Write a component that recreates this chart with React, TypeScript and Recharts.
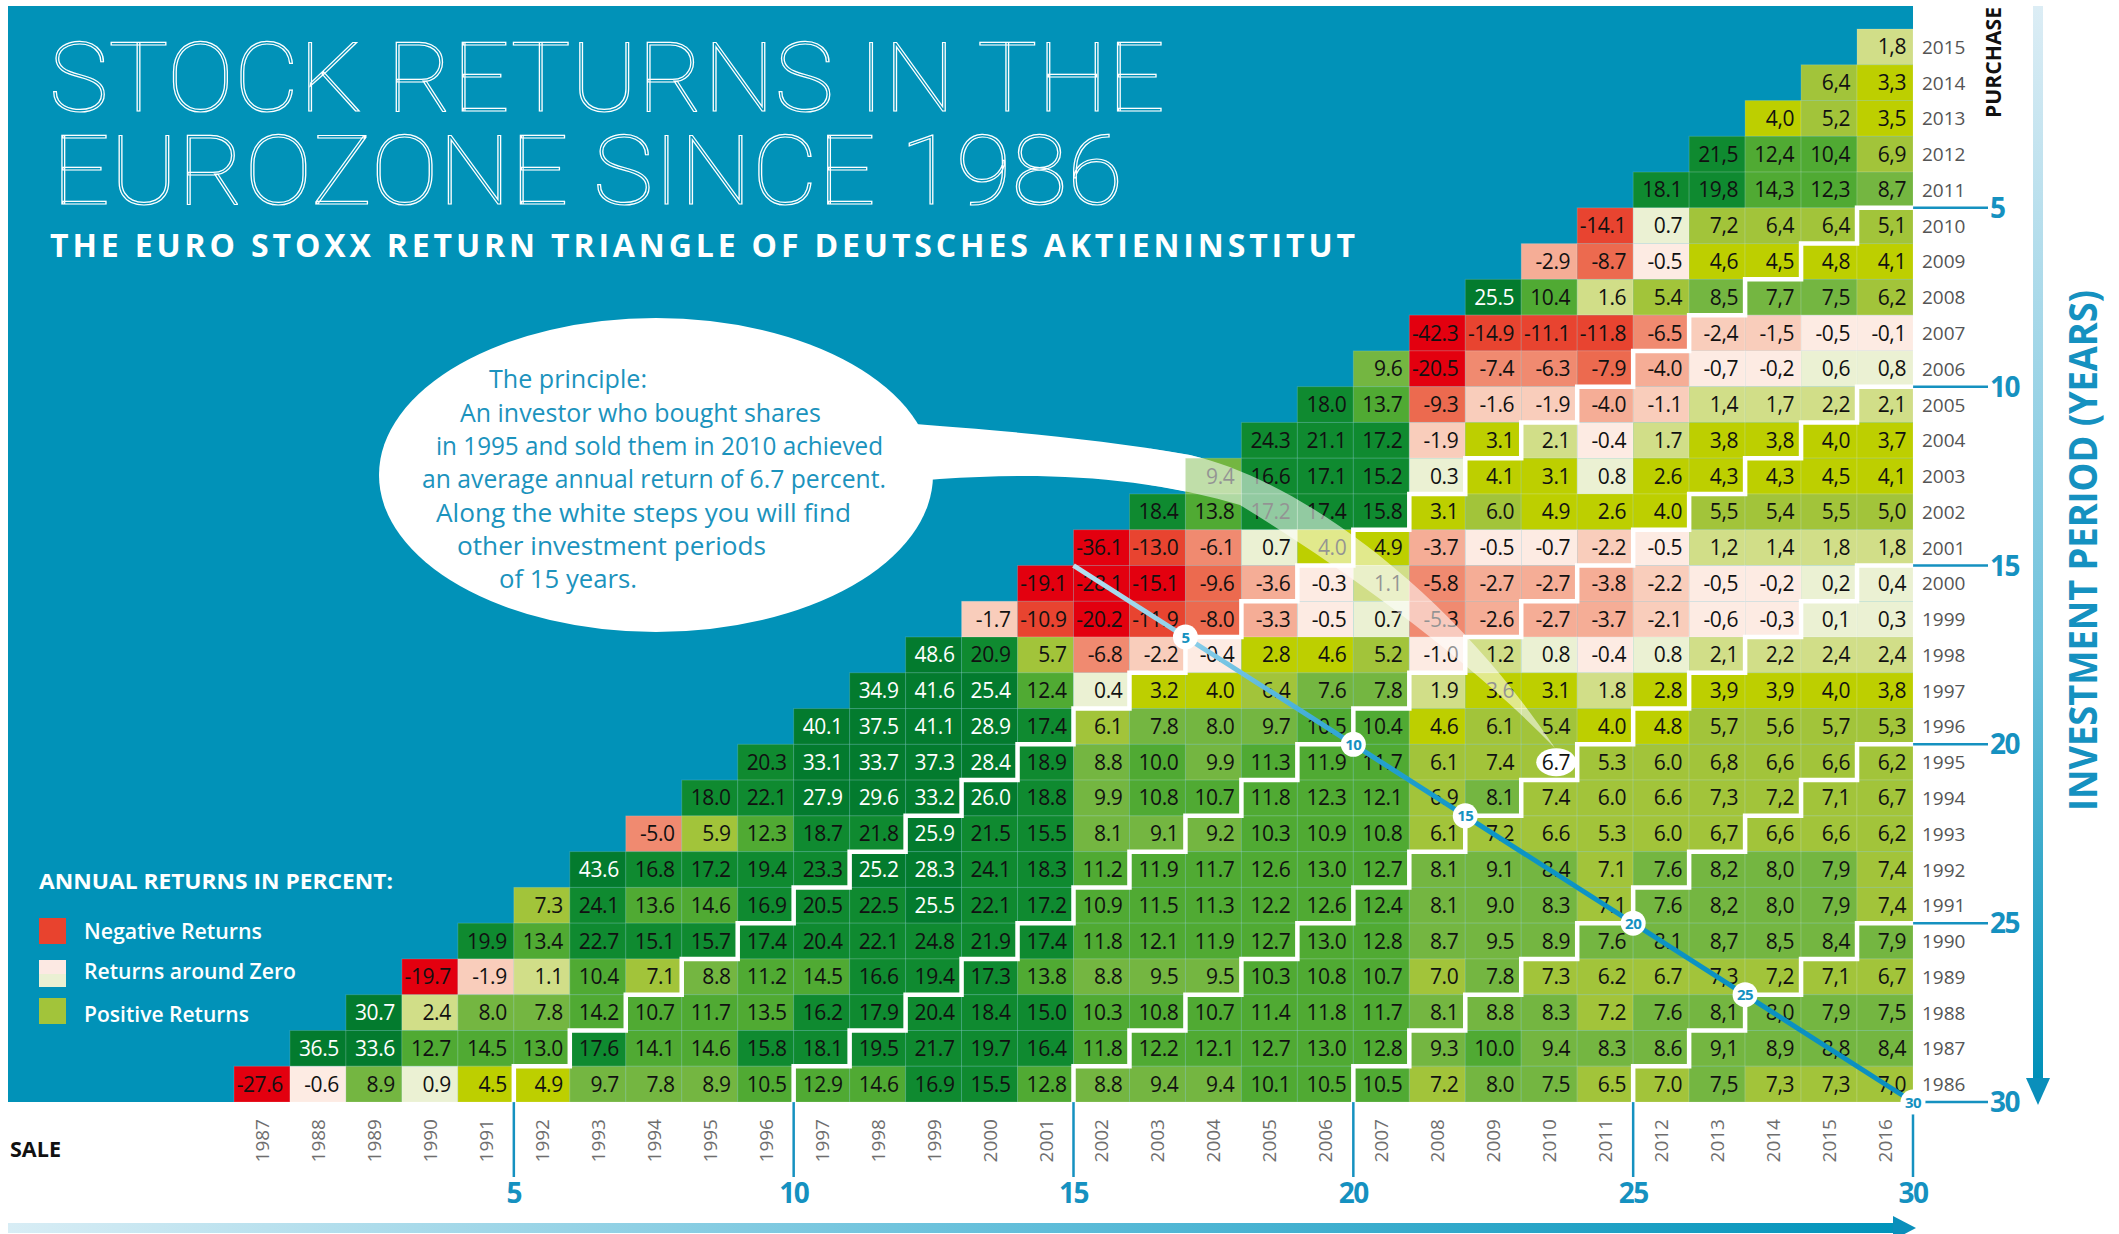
import { ComposedChart, Scatter, Line, XAxis, YAxis, ReferenceDot } from "recharts";

const W = 2119;
const H = 1234;
// plot area of the triangle grid (px)
const GRID = { left: 234, top: 29, right: 1913, bottom: 1102 };
const CELL_W = (GRID.right - GRID.left) / 30;
const CELL_H = (GRID.bottom - GRID.top) / 30;
const BLUE = "#0192b8";
const ACCENT = "#1591c0";
const FONT = "'Open Sans', 'Noto Sans', sans-serif";

const SALE_YEARS = [
  1987, 1988, 1989, 1990, 1991, 1992, 1993, 1994, 1995, 1996, 1997, 1998, 1999, 2000, 2001,
  2002, 2003, 2004, 2005, 2006, 2007, 2008, 2009, 2010, 2011, 2012, 2013, 2014, 2015, 2016,
];
const PURCHASE_YEARS = [
  1986, 1987, 1988, 1989, 1990, 1991, 1992, 1993, 1994, 1995, 1996, 1997, 1998, 1999, 2000,
  2001, 2002, 2003, 2004, 2005, 2006, 2007, 2008, 2009, 2010, 2011, 2012, 2013, 2014, 2015,
];
const PERIODS = [5, 10, 15, 20, 25, 30];
const HIGHLIGHT = { sale: 2010, purchase: 1995 };

// annual returns per purchase year, sale years purchase+1 .. 2016
const r2015 = [1.8];
const r2014 = [6.4, 3.3];
const r2013 = [4.0, 5.2, 3.5];
const r2012 = [21.5, 12.4, 10.4, 6.9];
const r2011 = [18.1, 19.8, 14.3, 12.3, 8.7];
const r2010 = [-14.1, 0.7, 7.2, 6.4, 6.4, 5.1];
const r2009 = [-2.9, -8.7, -0.5, 4.6, 4.5, 4.8, 4.1];
const r2008 = [25.5, 10.4, 1.6, 5.4, 8.5, 7.7, 7.5, 6.2];
const r2007 = [-42.3, -14.9, -11.1, -11.8, -6.5, -2.4, -1.5, -0.5, -0.1];
const r2006 = [9.6, -20.5, -7.4, -6.3, -7.9, -4.0, -0.7, -0.2, 0.6, 0.8];
const r2005 = [18.0, 13.7, -9.3, -1.6, -1.9, -4.0, -1.1, 1.4, 1.7, 2.2, 2.1];
const r2004 = [24.3, 21.1, 17.2, -1.9, 3.1, 2.1, -0.4, 1.7, 3.8, 3.8, 4.0, 3.7];
const r2003 = [9.4, 16.6, 17.1, 15.2, 0.3, 4.1, 3.1, 0.8, 2.6, 4.3, 4.3, 4.5, 4.1];
const r2002 = [18.4, 13.8, 17.2, 17.4, 15.8, 3.1, 6.0, 4.9, 2.6, 4.0, 5.5, 5.4, 5.5, 5.0];
const r2001 = [-36.1, -13.0, -6.1, 0.7, 4.0, 4.9, -3.7, -0.5, -0.7, -2.2, -0.5, 1.2, 1.4, 1.8, 1.8];
const r2000 = [-19.1, -28.1, -15.1, -9.6, -3.6, -0.3, 1.1, -5.8, -2.7, -2.7, -3.8, -2.2, -0.5, -0.2, 0.2, 0.4];
const r1999 = [-1.7, -10.9, -20.2, -11.9, -8.0, -3.3, -0.5, 0.7, -5.3, -2.6, -2.7, -3.7, -2.1, -0.6, -0.3, 0.1, 0.3];
const r1998 = [48.6, 20.9, 5.7, -6.8, -2.2, -0.4, 2.8, 4.6, 5.2, -1.0, 1.2, 0.8, -0.4, 0.8, 2.1, 2.2, 2.4, 2.4];
const r1997 = [34.9, 41.6, 25.4, 12.4, 0.4, 3.2, 4.0, 6.4, 7.6, 7.8, 1.9, 3.6, 3.1, 1.8, 2.8, 3.9, 3.9, 4.0, 3.8];
const r1996 = [40.1, 37.5, 41.1, 28.9, 17.4, 6.1, 7.8, 8.0, 9.7, 10.5, 10.4, 4.6, 6.1, 5.4, 4.0, 4.8, 5.7, 5.6, 5.7, 5.3];
const r1995 = [20.3, 33.1, 33.7, 37.3, 28.4, 18.9, 8.8, 10.0, 9.9, 11.3, 11.9, 11.7, 6.1, 7.4, 6.7, 5.3, 6.0, 6.8, 6.6, 6.6, 6.2];
const r1994 = [18.0, 22.1, 27.9, 29.6, 33.2, 26.0, 18.8, 9.9, 10.8, 10.7, 11.8, 12.3, 12.1, 6.9, 8.1, 7.4, 6.0, 6.6, 7.3, 7.2, 7.1, 6.7];
const r1993 = [-5.0, 5.9, 12.3, 18.7, 21.8, 25.9, 21.5, 15.5, 8.1, 9.1, 9.2, 10.3, 10.9, 10.8, 6.1, 7.2, 6.6, 5.3, 6.0, 6.7, 6.6, 6.6, 6.2];
const r1992 = [43.6, 16.8, 17.2, 19.4, 23.3, 25.2, 28.3, 24.1, 18.3, 11.2, 11.9, 11.7, 12.6, 13.0, 12.7, 8.1, 9.1, 8.4, 7.1, 7.6, 8.2, 8.0, 7.9, 7.4];
const r1991 = [7.3, 24.1, 13.6, 14.6, 16.9, 20.5, 22.5, 25.5, 22.1, 17.2, 10.9, 11.5, 11.3, 12.2, 12.6, 12.4, 8.1, 9.0, 8.3, 7.1, 7.6, 8.2, 8.0, 7.9, 7.4];
const r1990 = [19.9, 13.4, 22.7, 15.1, 15.7, 17.4, 20.4, 22.1, 24.8, 21.9, 17.4, 11.8, 12.1, 11.9, 12.7, 13.0, 12.8, 8.7, 9.5, 8.9, 7.6, 8.1, 8.7, 8.5, 8.4, 7.9];
const r1989 = [-19.7, -1.9, 1.1, 10.4, 7.1, 8.8, 11.2, 14.5, 16.6, 19.4, 17.3, 13.8, 8.8, 9.5, 9.5, 10.3, 10.8, 10.7, 7.0, 7.8, 7.3, 6.2, 6.7, 7.3, 7.2, 7.1, 6.7];
const r1988 = [30.7, 2.4, 8.0, 7.8, 14.2, 10.7, 11.7, 13.5, 16.2, 17.9, 20.4, 18.4, 15.0, 10.3, 10.8, 10.7, 11.4, 11.8, 11.7, 8.1, 8.8, 8.3, 7.2, 7.6, 8.1, 8.0, 7.9, 7.5];
const r1987 = [36.5, 33.6, 12.7, 14.5, 13.0, 17.6, 14.1, 14.6, 15.8, 18.1, 19.5, 21.7, 19.7, 16.4, 11.8, 12.2, 12.1, 12.7, 13.0, 12.8, 9.3, 10.0, 9.4, 8.3, 8.6, 9.1, 8.9, 8.8, 8.4];
const r1986 = [-27.6, -0.6, 8.9, 0.9, 4.5, 4.9, 9.7, 7.8, 8.9, 10.5, 12.9, 14.6, 16.9, 15.5, 12.8, 8.8, 9.4, 9.4, 10.1, 10.5, 10.5, 7.2, 8.0, 7.5, 6.5, 7.0, 7.5, 7.3, 7.3, 7.0];

const ROWS: [number, number[]][] = [
  [2015, r2015], [2014, r2014], [2013, r2013], [2012, r2012], [2011, r2011], [2010, r2010],
  [2009, r2009], [2008, r2008], [2007, r2007], [2006, r2006], [2005, r2005], [2004, r2004],
  [2003, r2003], [2002, r2002], [2001, r2001], [2000, r2000], [1999, r1999], [1998, r1998],
  [1997, r1997], [1996, r1996], [1995, r1995], [1994, r1994], [1993, r1993], [1992, r1992],
  [1991, r1991], [1990, r1990], [1989, r1989], [1988, r1988], [1987, r1987], [1986, r1986],
];

const cells = ROWS.flatMap(([p, vals]) => vals.map((v, i) => ({ x: p + 1 + i, y: p, v })));

const X_MIN = SALE_YEARS[0] - 0.5;
const X_MAX = SALE_YEARS[SALE_YEARS.length - 1] + 0.5;
const Y_MIN = PURCHASE_YEARS[0] - 0.5;
const Y_MAX = PURCHASE_YEARS[PURCHASE_YEARS.length - 1] + 0.5;

// white step line between holding periods <= k and > k
function stairs(k: number) {
  const pts: { x: number; y: number }[] = [];
  for (let p = Y_MAX - 0.5 - k; p >= PURCHASE_YEARS[0]; p--) {
    pts.push({ x: p + k + 1.5, y: p + 0.5 });
    pts.push({ x: p + k + 0.5, y: p + 0.5 });
  }
  pts.push({ x: PURCHASE_YEARS[0] + k + 0.5, y: Y_MIN });
  return pts;
}

// blue line through the cell corners, from the 1-year diagonal to the bottom-right corner
const DIAG_SUM = X_MAX + Y_MIN;
const diagonal = [1, X_MAX - Y_MIN].map((d) => ({ x: (DIAG_SUM + d) / 2, y: (DIAG_SUM - d) / 2 }));
// where the blue line crosses the step line of period k (a cell corner)
const markerPos = (k: number) => {
  const d = k % 2 === 0 ? k + 1 : k;
  return { x: (DIAG_SUM + d) / 2, y: (DIAG_SUM - d) / 2 };
};

function cellColor(v: number) {
  if (v <= -15) return "#e3000f";
  if (v <= -10) return "#e84430";
  if (v <= -7.5) return "#ec6a4f";
  if (v <= -4.95) return "#f08a70";
  if (v <= -2.5) return "#f5ad96";
  if (v <= -1.05) return "#f9cdbb";
  if (v < 0) return "#fdebe3";
  if (v < 1.05) return "#ebf1d3";
  if (v < 2.5) return "#d1de88";
  if (v < 5) return "#bdcf00";
  if (v < 7.45) return "#a2c43a";
  if (v < 10) return "#74b641";
  if (v < 15) return "#50aa33";
  if (v < 25) return "#0f8a30";
  return "#037b2e";
}

function CellMark(props: any) {
  const { cx, cy, payload } = props;
  if (cx == null || cy == null) return null;
  const v: number = payload.v;
  let label = v.toFixed(1);
  if (payload.x >= 2013) label = label.replace(".", ",");
  const hl = payload.x === HIGHLIGHT.sale && payload.y === HIGHLIGHT.purchase;
  return (
    <g>
      <rect
        x={cx - CELL_W / 2}
        y={cy - CELL_H / 2}
        width={CELL_W}
        height={CELL_H}
        fill={cellColor(v)}
        stroke="rgba(255,255,255,0.16)"
        strokeWidth={1}
      />
      {hl && <ellipse cx={cx + 7} cy={cy} rx={20} ry={14} fill="#fff" />}
      <text
        x={cx + CELL_W / 2 - 7}
        y={cy + 7.5}
        textAnchor="end"
        fontSize={21}
        letterSpacing={-0.4}
        fill={v >= 25 ? "#fff" : "#111"}
      >
        {label}
      </text>
    </g>
  );
}

const SaleTick = ({ x, payload }: any) => (
  <text
    transform={`rotate(-90 ${x} 1119)`}
    x={x}
    y={1119}
    dy={7}
    textAnchor="end"
    fontSize={19}
    fill="#6e6e6e"
  >
    {payload.value}
  </text>
);

const PurchaseTick = ({ y, payload }: any) => (
  <text x={1922} y={y + 7} fontSize={19} fill="#555">
    {payload.value}
  </text>
);

const periodMarker = (k: number) => (p: any) => (
  <g>
    <circle cx={p.cx} cy={p.cy} r={12.5} fill="#fff" />
    <text x={p.cx} y={p.cy + 5.5} textAnchor="middle" fontSize={15} fontWeight={700} fill={ACCENT} letterSpacing={-0.5}>
      {k}
    </text>
  </g>
);

const TAIL =
  "M 838 417 C 900 425, 1050 430, 1190 455 C 1300 480, 1450 590, 1555 748 C 1460 650, 1330 560, 1240 505 C 1120 470, 1000 470, 857 487 Z";

const BUBBLE_LINES: [string, number, number, number][] = [
  ["The principle:", 489, 388, 158],
  ["An investor who bought shares", 460, 422, 361],
  ["in 1995 and sold them in 2010 achieved", 436, 455, 447],
  ["an average annual return of 6.7 percent.", 422, 488, 464],
  ["Along the white steps you will find", 436, 522, 415],
  ["other investment periods", 457, 555, 309],
  ["of 15 years.", 499, 588, 138],
];

export default function App() {
  return (
    <div
      style={{
        position: "absolute",
        left: 0,
        top: 0,
        width: W,
        height: H,
        background: "#fff",
        overflow: "hidden",
        fontFamily: FONT,
      }}
    >
      <svg width={0} height={0} style={{ position: "absolute" }}>
        <defs>
          <linearGradient id="gradH" x1="0" y1="0" x2="1" y2="0">
            <stop offset="0" stopColor="#d8edf5" />
            <stop offset="0.55" stopColor="#5fbdd9" />
            <stop offset="1" stopColor="#0093ba" />
          </linearGradient>
          <linearGradient id="gradV" x1="0" y1="0" x2="0" y2="1">
            <stop offset="0" stopColor="#dcedf5" />
            <stop offset="0.6" stopColor="#6fc2dc" />
            <stop offset="1" stopColor="#0090b8" />
          </linearGradient>
          <linearGradient id="diagGrad" x1="0" y1="0" x2="1" y2="1">
            <stop offset="0" stopColor="#b6e0f0" />
            <stop offset="0.13" stopColor="#8fd0ea" />
            <stop offset="0.33" stopColor="#2aa3d2" />
            <stop offset="0.5" stopColor="#0d95c6" />
            <stop offset="1" stopColor="#0a8fc0" />
          </linearGradient>
          <clipPath id="tailClip">
            <rect x={1150} y={400} width={600} height={400} />
          </clipPath>
        </defs>
      </svg>

      <div
        style={{
          position: "absolute",
          left: 8,
          top: 6,
          width: GRID.right - 8,
          height: GRID.bottom - 6,
          background: BLUE,
        }}
      />

      <svg width={W} height={H} style={{ position: "absolute", left: 0, top: 0 }}>
        <text
          x={49}
          y={111}
          fontFamily="Roboto, sans-serif"
          fontWeight={100}
          fontSize={96}
          fill="none"
          stroke="#fff"
          strokeWidth={1.2}
          textLength={1116}
          lengthAdjust="spacingAndGlyphs"
        >
          STOCK RETURNS IN THE
        </text>
        <text
          x={52}
          y={204}
          fontFamily="Roboto, sans-serif"
          fontWeight={100}
          fontSize={96}
          fill="none"
          stroke="#fff"
          strokeWidth={1.2}
          textLength={1071}
          lengthAdjust="spacingAndGlyphs"
        >
          EUROZONE SINCE 1986
        </text>
        <text x={50} y={257} fontWeight={700} fontSize={32} fill="#fff" textLength={1305} lengthAdjust="spacing">
          THE EURO STOXX RETURN TRIANGLE OF DEUTSCHES AKTIENINSTITUT
        </text>

        <path d={TAIL} fill="#fff" />
        <ellipse cx={656} cy={475} rx={277} ry={157} fill="#fff" />
        {BUBBLE_LINES.map(([t, x, y, w]) => (
          <text key={t} x={x} y={y} fontSize={26} fill="#1b93bd" textLength={w} lengthAdjust="spacingAndGlyphs">
            {t}
          </text>
        ))}

        <text x={39} y={889} fontWeight={700} fontSize={22} fill="#fff" textLength={354} lengthAdjust="spacingAndGlyphs">
          ANNUAL RETURNS IN PERCENT:
        </text>
        <rect x={39} y={918} width={27} height={26} fill="#e8432e" />
        <rect x={39} y={960} width={27} height={14} fill="#fce9e3" />
        <rect x={39} y={974} width={27} height={13} fill="#eaf0d3" />
        <rect x={39} y={998} width={27} height={26} fill="#a2c43a" />
        <text x={84} y={939} fontWeight={600} fontSize={22} fill="#fff" textLength={178} lengthAdjust="spacingAndGlyphs">
          Negative Returns
        </text>
        <text x={84} y={979} fontWeight={600} fontSize={22} fill="#fff" textLength={212} lengthAdjust="spacingAndGlyphs">
          Returns around Zero
        </text>
        <text x={84} y={1022} fontWeight={600} fontSize={22} fill="#fff" textLength={165} lengthAdjust="spacingAndGlyphs">
          Positive Returns
        </text>

        <text
          transform="rotate(-90 2001 118)"
          x={2001}
          y={118}
          fontWeight={700}
          fontSize={21}
          fill="#111"
          textLength={111}
          lengthAdjust="spacingAndGlyphs"
        >
          PURCHASE
        </text>
        <text x={10} y={1157} fontWeight={700} fontSize={21} fill="#111" textLength={51} lengthAdjust="spacingAndGlyphs">
          SALE
        </text>

        {PERIODS.map((k) => {
          const y = GRID.top + k * CELL_H;
          const x = GRID.left + k * CELL_W;
          return (
            <g key={k}>
              <line x1={GRID.right} x2={1988} y1={y} y2={y} stroke={ACCENT} strokeWidth={2.5} />
              <text x={1990} y={y + 10} fontWeight={700} fontSize={28} fill={ACCENT} letterSpacing={-1.5}>
                {k}
              </text>
              <line x1={x} x2={x} y1={GRID.bottom} y2={1177} stroke={ACCENT} strokeWidth={2.5} />
              <text x={x} y={1203} textAnchor="middle" fontWeight={700} fontSize={28} fill={ACCENT} letterSpacing={-1.5}>
                {k}
              </text>
            </g>
          );
        })}

        <rect x={2033} y={6} width={10} height={1074} fill="url(#gradV)" />
        <polygon points="2026,1078 2050,1078 2038,1105" fill="#0a8fbb" />
        <rect x={8} y={1223} width={1888} height={10} fill="url(#gradH)" />
        <polygon points="1893,1216 1893,1240 1916,1228" fill="#0a8fbb" />

        <text
          transform="rotate(-90 2097 811)"
          x={2097}
          y={811}
          fontWeight={700}
          fontSize={40}
          fill={ACCENT}
          textLength={521}
          lengthAdjust="spacingAndGlyphs"
        >
          INVESTMENT PERIOD (YEARS)
        </text>
      </svg>

      <div style={{ position: "absolute", left: 0, top: 0 }}>
        <ComposedChart width={W} height={H} margin={{ top: GRID.top, left: GRID.left, right: 126, bottom: 42 }}>
          <XAxis
            type="number"
            dataKey="x"
            domain={[X_MIN, X_MAX]}
            ticks={SALE_YEARS}
            interval={0}
            height={90}
            axisLine={false}
            tickLine={false}
            tick={<SaleTick />}
          />
          <YAxis
            type="number"
            dataKey="y"
            orientation="right"
            domain={[Y_MIN, Y_MAX]}
            ticks={PURCHASE_YEARS}
            interval={0}
            width={80}
            axisLine={false}
            tickLine={false}
            tick={<PurchaseTick />}
          />
          <Scatter data={cells} shape={CellMark} isAnimationActive={false} zIndex={100} />
          {[5, 10, 15, 20, 25].map((k) => (
            <Line
              key={k}
              data={stairs(k)}
              dataKey="y"
              type="linear"
              stroke="#fff"
              strokeWidth={4.5}
              strokeLinejoin="miter"
              dot={false}
              activeDot={false}
              isAnimationActive={false}
              zIndex={700}
            />
          ))}
          <Line
            data={diagonal}
            dataKey="y"
            type="linear"
            stroke="url(#diagGrad)"
            strokeWidth={5}
            dot={false}
            activeDot={false}
            isAnimationActive={false}
            zIndex={750}
          />
          {PERIODS.map((k) => {
            const m = markerPos(k);
            return <ReferenceDot key={k} x={m.x} y={m.y} r={12.5} shape={periodMarker(k)} zIndex={800} />;
          })}
        </ComposedChart>
      </div>

      <svg width={W} height={H} style={{ position: "absolute", left: 0, top: 0, pointerEvents: "none" }}>
        <path d={TAIL} fill="rgba(255,255,255,0.55)" clipPath="url(#tailClip)" />
      </svg>
    </div>
  );
}
